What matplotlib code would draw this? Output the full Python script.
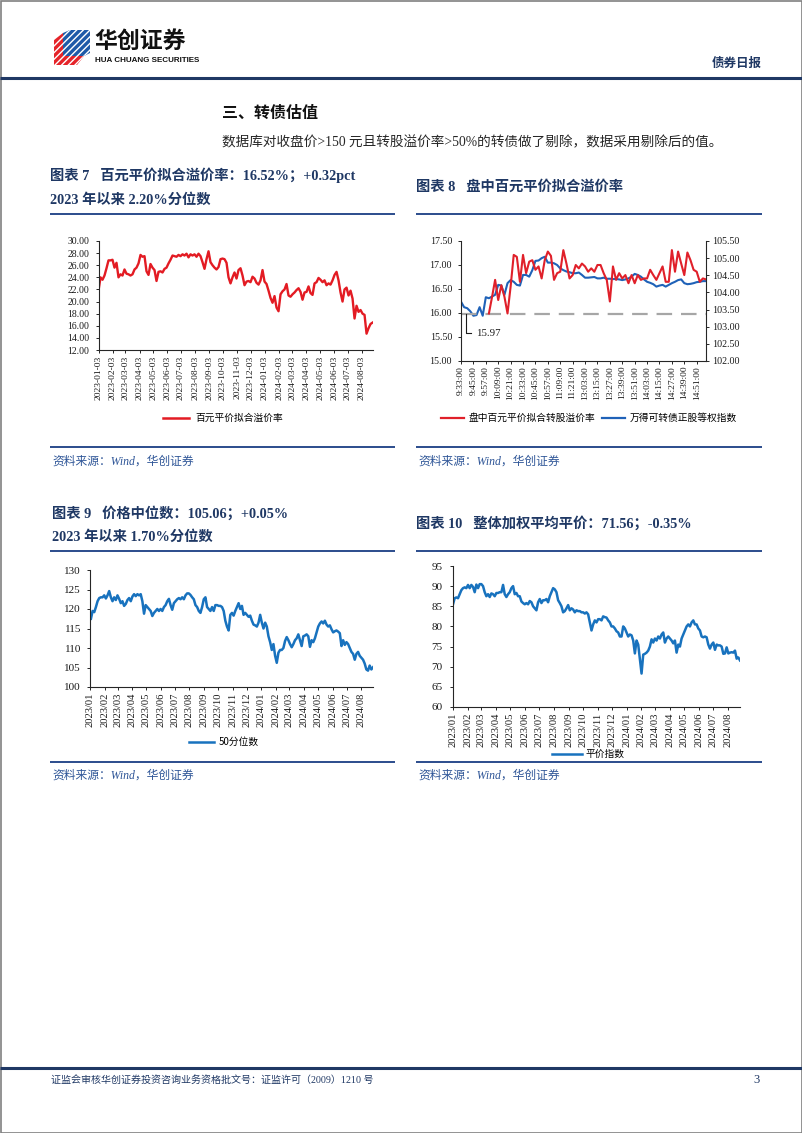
import numpy as np
import pandas as pd
import matplotlib
matplotlib.use('Agg')
import matplotlib.pyplot as plt
from matplotlib.patches import Polygon, Rectangle
from matplotlib.lines import Line2D
from matplotlib.font_manager import FontProperties
from matplotlib.ticker import FormatStrFormatter, MultipleLocator

# ---------------- data ----------------
# Chart 7: 百元平价拟合溢价率 (%)
prem_start, prem_end = '2023-01-03', '2024-08-26'
prem_values = [
    21.8, 24.0, 23.6, 24.3, 25.5, 26.8, 26.8, 26.9, 25.6, 26.4,
    24.0, 24.5, 24.3, 25.3, 24.6, 24.5, 24.3, 24.5, 25.3, 25.6,
    26.3, 27.7, 27.4, 27.5, 25.0, 24.4, 26.2, 25.6, 25.2, 23.4,
    24.9, 25.0, 24.8, 25.4, 25.6, 26.3, 26.9, 27.6, 27.5, 27.4,
    27.7, 27.5, 27.8, 27.6, 27.9, 27.3, 27.8, 27.6, 27.8, 27.4,
    27.9, 27.5, 26.5, 25.4, 27.0, 28.3, 26.5, 26.0, 25.6, 25.3,
    25.7, 27.0, 27.1, 27.0, 26.4, 24.0, 23.0, 24.0, 24.8, 23.8,
    25.2, 25.5, 24.3, 22.7, 23.3, 23.4, 23.2, 24.1, 23.8, 23.1,
    22.8, 23.5, 25.2, 23.3, 22.9, 21.8, 20.6, 19.8, 20.9, 19.0,
    18.4, 21.2, 21.7, 22.0, 22.9, 21.0, 20.8, 21.2, 21.5, 21.9,
    22.2, 21.6, 20.3, 21.5, 21.6, 22.5, 21.4, 21.1, 23.0, 23.2,
    23.9, 23.6, 23.2, 23.5, 22.7, 23.0, 22.8, 23.5, 24.4, 24.9,
    23.5, 21.5, 20.0, 22.0, 22.3, 21.0, 21.8, 20.5, 17.2, 19.3,
    18.3, 18.6, 18.0, 17.8, 14.7, 15.6, 16.3, 16.52,
]
prem_label = '百元平价拟合溢价率'

# Chart 8: intraday (3-minute points)
intraday_ticklabels = ['9:33:00', '9:45:00', '9:57:00', '10:09:00', '10:21:00',
                       '10:33:00', '10:45:00', '10:57:00', '11:09:00', '11:21:00',
                       '13:03:00', '13:15:00', '13:27:00', '13:39:00', '13:51:00',
                       '14:03:00', '14:15:00', '14:27:00', '14:39:00', '14:51:00']
intraday_prem = [
    np.nan, np.nan, np.nan, np.nan, np.nan, np.nan, np.nan, np.nan, np.nan, 15.99,
    16.33, 16.69, 16.27, 16.58, 16.34, 15.99, 16.55, 17.21, 17.17, 16.65,
    17.21, 16.83, 17.07, 17.10, 16.90, 16.97, 16.72, 17.10, 17.28, 17.19,
    16.69, 16.83, 16.86, 17.31, 17.03, 16.72, 16.79, 17.00, 16.93, 17.03,
    16.97, 16.86, 16.93, 16.86, 17.00, 17.00, 16.83, 16.69, 16.24, 16.97,
    16.69, 16.83, 16.72, 16.79, 16.62, 16.79, 16.62, 16.79, 16.69, 16.72,
    16.72, 16.90, 16.79, 16.69, 16.83, 16.97, 16.65, 16.65, 17.31, 16.86,
    17.28, 17.03, 16.79, 17.26, 17.10, 16.90, 16.86, 16.65, 16.72, 16.70,
]
intraday_index = [
    103.73, 103.57, 103.54, 103.45, 103.32, 103.34, 103.57, 103.32, 103.86, 103.83,
    103.88, 103.93, 104.22, 104.20, 103.93, 104.27, 104.36, 104.31, 104.22, 104.20,
    104.51, 104.51, 104.46, 104.65, 104.92, 104.93, 105.00, 105.04, 104.87, 104.87,
    104.85, 104.80, 104.70, 104.65, 104.61, 104.59, 104.56, 104.56, 104.58, 104.51,
    104.43, 104.43, 104.44, 104.45, 104.41, 104.41, 104.43, 104.40, 104.40, 104.39,
    104.39, 104.38, 104.36, 104.38, 104.41, 104.46, 104.54, 104.51, 104.46, 104.38,
    104.31, 104.28, 104.24, 104.17, 104.20, 104.22, 104.17, 104.22, 104.27, 104.31,
    104.36, 104.38, 104.27, 104.24, 104.25, 104.27, 104.30, 104.31, 104.33, 104.33,
]
open_level = 15.97
intraday_labels = ['盘中百元平价拟合转股溢价率', '万得可转债正股等权指数']

# Chart 9: 价格中位数
median_values = [
    117.5, 119.5, 119.2, 120.5, 122.0, 122.8, 123.0, 123.0, 123.5, 122.7,
    123.5, 124.6, 123.0, 122.0, 123.0, 122.3, 123.5, 122.6, 121.5, 122.0,
    120.8, 121.3, 122.3, 122.8, 122.0, 123.2, 123.8, 123.3, 123.8, 123.5,
    123.8, 122.0, 118.8, 121.0, 120.5, 120.0, 119.5, 118.2, 119.0, 119.5,
    120.0, 119.5, 120.0, 119.5, 120.5, 121.0, 122.0, 122.6, 121.0, 119.8,
    121.5, 122.0, 122.5, 122.8, 122.5, 123.0, 122.5, 123.5, 124.0, 124.0,
    123.6, 123.0, 122.5, 121.0, 120.5, 119.5, 119.0, 120.5, 122.5, 123.0,
    120.5, 120.0, 119.5, 120.5, 119.5, 121.0, 121.0, 120.8, 120.8, 120.5,
    119.5, 117.0, 115.5, 114.5, 118.5, 119.0, 118.3, 119.5, 120.5, 121.5,
    120.0, 120.8, 118.5, 119.0, 118.5, 118.0, 118.3, 117.0, 116.0, 115.8,
    115.5, 116.5, 118.5, 116.5, 115.0, 116.5, 115.5, 113.0, 111.5, 109.5,
    111.0, 108.0, 106.2, 108.8, 109.5, 109.5, 110.0, 111.8, 112.8, 112.0,
    111.0, 110.2, 111.0, 112.0, 112.5, 113.5, 112.0, 110.5, 113.0, 113.2,
    113.5, 113.0, 110.3, 112.0, 111.5, 112.5, 114.0, 115.5, 116.3, 116.8,
    116.3, 117.0, 116.0, 115.5, 115.8, 114.8, 114.0, 114.3, 114.5, 114.2,
    113.8, 110.5, 112.0, 110.8, 111.5, 111.0, 110.0, 109.0, 108.5, 107.0,
    108.5, 109.0, 108.0, 107.5, 107.0, 106.0, 104.5, 104.2, 105.5, 104.5,
    105.06,
]
median_label = '50分位数'

# Chart 10: 整体加权平均平价
parity_values = [
    85.5, 87.0, 87.2, 87.0, 88.0, 89.0, 89.5, 89.7, 89.5, 90.3,
    89.5, 90.3, 89.8, 88.5, 90.4, 89.5, 90.5, 90.5, 90.0, 88.5,
    87.5, 88.0, 87.3, 88.2, 88.0, 87.5, 88.3, 88.3, 88.5, 88.5,
    90.3, 88.0, 87.3, 88.0, 88.5, 89.5, 90.0, 88.0, 88.3, 87.5,
    87.5, 86.2, 85.8, 85.5, 85.8, 85.5, 86.3, 86.0, 85.0, 84.5,
    84.0, 86.0, 86.8, 85.8, 86.5, 86.5, 86.8, 86.0, 87.5, 88.5,
    89.5, 89.2, 88.5, 86.5, 85.8, 85.0, 83.5, 83.8, 84.5, 85.3,
    84.0, 84.5, 84.2, 83.5, 84.0, 83.8, 83.8, 83.5, 83.5, 83.2,
    83.5, 83.0, 81.0, 79.0, 80.5, 81.5, 81.0, 81.8, 81.8, 81.5,
    82.5, 82.3, 82.2, 81.5, 81.0, 80.0, 80.0, 79.5, 78.8, 78.5,
    77.5, 77.5, 80.0, 79.5, 78.5, 77.5, 78.0, 77.8, 76.5, 73.3,
    76.5, 75.5, 72.0, 68.3, 73.0, 73.2, 73.5, 74.0, 75.0, 76.8,
    76.0, 77.0, 76.5, 77.5, 77.0, 78.0, 78.5, 76.0, 77.0, 77.5,
    77.0, 76.5, 75.8, 76.5, 73.5, 75.5, 75.0, 77.0, 78.0, 79.0,
    80.0, 80.5, 80.0, 81.0, 81.5, 80.5, 80.5, 79.5, 79.0, 77.5,
    77.3, 77.5, 77.3, 75.5, 74.5, 75.5, 76.0, 74.2, 75.5, 75.3,
    75.3, 75.0, 73.2, 73.3, 74.8, 73.3, 73.5, 73.6, 73.5, 74.0,
    72.0, 72.3, 71.56,
]
parity_label = '平价指数'

# ---------------- styling ----------------
W, H = 802, 1133
RED = '#E31B23'
RED8 = '#E0202A'
BLUE8 = '#1F62B8'
BLUE = '#1872BE'
NAVY = '#1F3864'
RULE = '#2B4C8C'
SRC = '#2E5597'
SERIF_CJK = ['Liberation Serif', 'Noto Sans CJK SC']
CJK = ['Noto Sans CJK SC', 'DejaVu Sans']
plt.rcParams['axes.unicode_minus'] = False

fig = plt.figure(figsize=(W / 100, H / 100), dpi=100)
bg = fig.add_axes([0, 0, 1, 1])
bg.set_xlim(0, W)
bg.set_ylim(H, 0)
bg.axis('off')


def add_ax(x0, y0, x1, y1):
    return fig.add_axes([x0 / W, 1 - y1 / H, (x1 - x0) / W, (y1 - y0) / H])


def rule(x0, x1, y, color, lw):
    bg.plot([x0, x1], [y, y], color=color, lw=lw, solid_capstyle='butt')


def style_ax(ax, ysize, xsize, ypad=4, xpad=1.5):
    for s in ['top', 'right']:
        ax.spines[s].set_visible(False)
    for s in ['left', 'bottom']:
        ax.spines[s].set_color('#262626')
        ax.spines[s].set_linewidth(0.8)
    ax.tick_params(axis='both', direction='out', length=2.5, width=0.7,
                   color='#262626', labelfontfamily='Liberation Serif',
                   labelcolor='#1a1a1a')
    ax.tick_params(axis='y', pad=ypad, labelsize=ysize)
    ax.tick_params(axis='x', pad=xpad, labelsize=xsize, labelrotation=90)


# page frame
bg.add_patch(Rectangle((0.5, 0.5), W - 1, H - 1, fill=False, edgecolor='#808080', lw=1.2))

# header logo
bg.add_patch(Polygon([(54, 40), (63, 33), (63, 56), (84, 56), (77, 65), (54, 65)],
                     closed=True, facecolor='#E52329', edgecolor='white', hatch='/////', lw=0))
bg.add_patch(Polygon([(63, 33), (70, 30), (90, 30), (90, 53), (84, 56), (63, 56)],
                     closed=True, facecolor='#1E5AA8', edgecolor='white', hatch='/////', lw=0))
bg.text(94, 41, '华创证券', fontsize=16.5, fontweight='bold', family=CJK,
        color='#111111', va='center', ha='left')
bg.text(95, 61, 'HUA CHUANG SECURITIES', fontsize=5.8, fontweight='bold',
        family=['Liberation Sans', 'DejaVu Sans'], color='#111111', va='center', ha='left')
bg.text(762, 63, '债券日报', fontsize=9, fontweight='bold', family=CJK,
        color=NAVY, va='center', ha='right')
rule(0, W, 78, NAVY, 2.2)

# section heading + paragraph
bg.text(222, 113, '三、转债估值', fontsize=11.5, fontweight='bold', family=CJK,
        color='#111111', va='center', ha='left')
bg.text(222, 143, '数据库对收盘价>150 元且转股溢价率>50%的转债做了剔除，数据采用剔除后的值。',
        fontsize=9.8, family=SERIF_CJK, color='#262626', va='center', ha='left')

# titles
tkw = dict(fontsize=10.3, fontweight='bold', family=SERIF_CJK, color=NAVY, va='center', ha='left')
bg.text(50, 175, '图表 7   百元平价拟合溢价率：16.52%；+0.32pct', **tkw)
bg.text(50, 200, '2023 年以来 2.20%分位数', **tkw)
bg.text(416, 187, '图表 8   盘中百元平价拟合溢价率', **tkw)
bg.text(52, 513, '图表 9   价格中位数：105.06；+0.05%', **tkw)
bg.text(52, 537, '2023 年以来 1.70%分位数', **tkw)
bg.text(416, 523, '图表 10   整体加权平均平价：71.56；-0.35%', **tkw)

for y in (214, 447, 551, 762):
    rule(50, 395, y, RULE, 1.4)
    rule(416, 762, y, RULE, 1.4)

skw = dict(fontsize=8.5, style='italic', family=SERIF_CJK, color=SRC, va='center', ha='left')
for (x, y) in ((52, 462), (418, 462), (52, 776), (418, 776)):
    bg.text(x, y, '资料来源：Wind，华创证券', **skw)

# footer
rule(0, W, 1068, NAVY, 2.2)
bg.text(51, 1080, '证监会审核华创证券投资咨询业务资格批文号：证监许可（2009）1210 号',
        fontsize=7.2, family=SERIF_CJK, color=NAVY, va='center', ha='left')
bg.text(760, 1080, '3', fontsize=9, family=['Liberation Serif'], color=NAVY,
        va='center', ha='right')

legend_font = FontProperties(family=CJK, size=7)

# ---------------- chart 7 ----------------
ax7 = add_ax(98.5, 241, 373, 350)
d7 = pd.date_range(prem_start, prem_end, periods=len(prem_values))
ax7.plot(d7, prem_values, color=RED, lw=1.7)
ax7.set_ylim(12, 30)
ax7.yaxis.set_major_locator(MultipleLocator(2))
ax7.yaxis.set_major_formatter(FormatStrFormatter('%.2f'))
ticks7 = pd.date_range('2023-01-03', periods=20, freq=pd.DateOffset(months=1))
ax7.set_xlim(pd.Timestamp('2023-01-03'), pd.Timestamp('2024-08-27'))
ax7.set_xticks(ticks7)
ax7.set_xticklabels([t.strftime('%Y-%m-%d') for t in ticks7])
style_ax(ax7, 7, 6.8)
ax7.legend(handles=[Line2D([], [], color=RED, lw=1.8)], labels=[prem_label],
           loc='center', bbox_to_anchor=(223 / W, 1 - 418 / H), bbox_transform=fig.transFigure,
           frameon=False, prop=legend_font, handlelength=2.7, handletextpad=0.6)

# ---------------- chart 8 ----------------
ax8 = add_ax(461, 241, 706, 361)
idx8 = np.arange(len(intraday_index))
ax8.axhline(open_level, color='#A6A6A6', lw=1.6, dashes=(7, 4), zorder=1)
ax8.plot(idx8, intraday_prem, color=RED8, lw=1.5, zorder=3)
ax8.set_ylim(15, 17.5)
ax8.yaxis.set_major_locator(MultipleLocator(0.5))
ax8.yaxis.set_major_formatter(FormatStrFormatter('%.2f'))
ax8.set_xlim(0, len(idx8) - 1)
ax8.set_xticks(np.arange(0, len(idx8), 4))
ax8.set_xticklabels(intraday_ticklabels)
style_ax(ax8, 7.2, 6.8, ypad=4, xpad=1)
ax8.plot([1.6, 1.6, 3.2], [open_level, 15.58, 15.58], color='#1a1a1a', lw=0.8, zorder=4)
ax8.text(5.0, 15.58, f'{open_level:.2f}', fontsize=7.8, family=['Liberation Serif'],
         va='center', ha='left', color='#1a1a1a')
ax8r = ax8.twinx()
ax8r.plot(idx8, intraday_index, color=BLUE8, lw=1.5, zorder=2)
ax8r.set_ylim(102, 105.5)
ax8r.yaxis.set_major_locator(MultipleLocator(0.5))
ax8r.yaxis.set_major_formatter(FormatStrFormatter('%.2f'))
for s in ['top', 'left', 'bottom']:
    ax8r.spines[s].set_visible(False)
ax8r.spines['right'].set_color('#262626')
ax8r.spines['right'].set_linewidth(0.8)
ax8r.tick_params(axis='y', direction='out', length=2.5, width=0.7, color='#262626',
                 labelfontfamily='Liberation Serif', labelsize=7.2, pad=2, labelcolor='#1a1a1a')
ax8.set_zorder(ax8r.get_zorder() + 1)
ax8.patch.set_visible(False)
ax8.legend(handles=[Line2D([], [], color=RED8, lw=1.6), Line2D([], [], color=BLUE8, lw=1.6)],
           labels=intraday_labels, ncol=2, loc='center',
           bbox_to_anchor=(589 / W, 1 - 418 / H), bbox_transform=fig.transFigure,
           frameon=False, prop=legend_font, handlelength=2.4, handletextpad=0.5,
           columnspacing=0.6)

# ---------------- chart 9 ----------------
ticks_m = pd.date_range('2023-01-01', periods=20, freq='MS')
ax9 = add_ax(90, 570, 373, 687)
d9 = pd.date_range('2023-01-03', '2024-08-26', periods=len(median_values))
ax9.plot(d9, median_values, color=BLUE, lw=1.8)
ax9.set_ylim(100, 130)
ax9.yaxis.set_major_locator(MultipleLocator(5))
ax9.set_xlim(pd.Timestamp('2023-01-01'), pd.Timestamp('2024-08-26'))
ax9.set_xticks(ticks_m)
ax9.set_xticklabels([t.strftime('%Y/%m') for t in ticks_m])
style_ax(ax9, 8, 7.6, ypad=4, xpad=1.5)
ax9.legend(handles=[Line2D([], [], color=BLUE, lw=1.8)], labels=[median_label],
           loc='center', bbox_to_anchor=(224 / W, 1 - 742 / H), bbox_transform=fig.transFigure,
           frameon=False, prop=legend_font, handlelength=2.6, handletextpad=0.5)

# ---------------- chart 10 ----------------
ax10 = add_ax(453, 566, 740, 707)
d10 = pd.date_range('2023-01-01', '2024-08-26', periods=len(parity_values))
ax10.plot(d10, parity_values, color=BLUE, lw=1.8)
ax10.set_ylim(60, 95)
ax10.yaxis.set_major_locator(MultipleLocator(5))
ax10.set_xlim(pd.Timestamp('2023-01-01'), pd.Timestamp('2024-08-26'))
ax10.set_xticks(ticks_m)
ax10.set_xticklabels([t.strftime('%Y/%m') for t in ticks_m])
style_ax(ax10, 8, 7.6, ypad=5, xpad=1.5)
ax10.legend(handles=[Line2D([], [], color=BLUE, lw=1.8)], labels=[parity_label],
            loc='center', bbox_to_anchor=(588 / W, 1 - 754 / H), bbox_transform=fig.transFigure,
            frameon=False, prop=legend_font, handlelength=3.1, handletextpad=0.3,
            borderpad=0.1)

fig.savefig('out.png', dpi=100)
